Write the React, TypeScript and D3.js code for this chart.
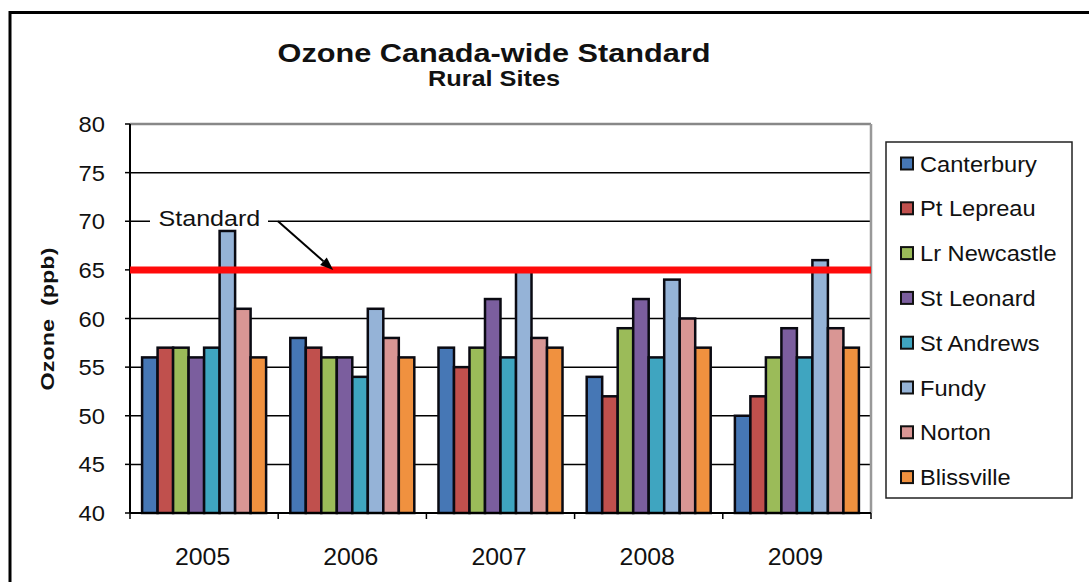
import React from "react";
import * as d3 from "d3";

const years = ["2005", "2006", "2007", "2008", "2009"];
const sites = ["Canterbury", "Pt Lepreau", "Lr Newcastle", "St Leonard", "St Andrews", "Fundy", "Norton", "Blissville"];
const canterbury = [56, 58, 57, 54, 50];
const ptLepreau = [57, 57, 55, 52, 52];
const lrNewcastle = [57, 56, 57, 59, 56];
const stLeonard = [56, 56, 62, 62, 59];
const stAndrews = [57, 54, 56, 56, 56];
const fundy = [69, 61, 65, 64, 66];
const norton = [61, 58, 58, 60, 59];
const blissville = [56, 56, 57, 57, 57];
const seriesValues = [canterbury, ptLepreau, lrNewcastle, stLeonard, stAndrews, fundy, norton, blissville];
const siteColors = ["#4677B5", "#C0504D", "#9BBB59", "#7B5E9E", "#3FA5C0", "#95B3D7", "#D99694", "#F0913F"];
const yTicks = [40, 45, 50, 55, 60, 65, 70, 75, 80];
const standard = 65;
const titleText = "Ozone Canada-wide Standard";
const subtitleText = "Rural Sites";
const yAxisTitle = "Ozone\u00a0\u00a0(ppb)";
const standardLabel = "Standard";

const W = 1089;
const H = 582;
const FONT = "'Liberation Sans', Arial, Helvetica, sans-serif";

function T(props: any) {
  const { x, y, sx = 1, rotate = 0, size, weight = "normal", anchor = "start", children } = props;
  return (
    <text
      transform={`translate(${x},${y}) rotate(${rotate}) scale(${sx},1)`}
      fontSize={size}
      fontWeight={weight}
      textAnchor={anchor}
      fontFamily={FONT}
      fill="#111"
    >
      {children}
    </text>
  );
}

export default function App() {
  const left = 130, right = 871, top = 124, bottom = 513;
  const x0 = d3.scaleBand<string>().domain(years).range([left, right]).paddingInner(0).paddingOuter(0);
  const x1 = d3.scaleBand<string>().domain(sites).range([0, x0.bandwidth()]).paddingInner(0).paddingOuter(0.78);
  const y = d3.scaleLinear().domain([40, 80]).range([bottom, top]);

  const bars: any[] = [];
  years.forEach((yr, i) => {
    sites.forEach((s, j) => {
      const v = seriesValues[j][i];
      bars.push(
        <rect
          key={yr + s}
          x={(x0(yr) as number) + (x1(s) as number)}
          y={y(v)}
          width={x1.bandwidth()}
          height={y(40) - y(v)}
          fill={siteColors[j]}
          stroke="#0a0a12"
          strokeWidth={2.5}
        />
      );
    });
  });

  const bandEdges = years.map((yr) => x0(yr) as number).concat([right]);

  // arrow annotation
  const labelY = y(70);
  const arrowStart: [number, number] = [left + 148, labelY];
  const arrowEnd: [number, number] = [(x0("2006") as number) + 55, y(standard)];
  const ang = Math.atan2(arrowEnd[1] - arrowStart[1], arrowEnd[0] - arrowStart[0]);
  const ah = 13, aw = 5;
  const bx = arrowEnd[0] - ah * Math.cos(ang), by = arrowEnd[1] - ah * Math.sin(ang);
  const head = `M${arrowEnd[0]},${arrowEnd[1]} L${bx + aw * Math.sin(ang)},${by - aw * Math.cos(ang)} L${bx - aw * Math.sin(ang)},${by + aw * Math.cos(ang)} Z`;

  const legendX = 886, legendTop = 142, legendW = 186, legendH = 356;
  const legendStep = 44.8;

  return (
    <svg width={W} height={H} style={{ position: "absolute", left: 0, top: 0, background: "#fff" }}>
      <rect x={0} y={0} width={W} height={H} fill="#fff" />
      {/* outer frame */}
      <rect x={10} y={12.5} width={1200} height={700} fill="none" stroke="#000" strokeWidth={3} />

      {/* titles */}
      <T x={494} y={61.5} size={26} weight="bold" anchor="middle" sx={1.18}>{titleText}</T>
      <T x={494} y={85.5} size={22} weight="bold" anchor="middle" sx={1.15}>{subtitleText}</T>

      {/* gridlines */}
      {yTicks.filter((t) => t > 40 && t < 80).map((t) => (
        <line key={t} x1={left} x2={right} y1={y(t)} y2={y(t)} stroke="#000" strokeWidth={1.5} />
      ))}
      {/* plot border top & right */}
      <line x1={left} x2={right} y1={y(80)} y2={y(80)} stroke="#888" strokeWidth={2.5} />
      <line x1={right} x2={right} y1={y(80)} y2={y(40)} stroke="#999" strokeWidth={2.5} />

      {/* standard label */}
      <rect x={150} y={labelY - 14} width={118} height={26} fill="#fff" />
      <T x={158.5} y={labelY + 5} size={22} sx={1.14}>{standardLabel}</T>

      {/* bars */}
      {bars}

      {/* axes */}
      <line x1={left} x2={left} y1={y(80)} y2={y(40)} stroke="#000" strokeWidth={2} />
      <line x1={left} x2={right} y1={y(40)} y2={y(40)} stroke="#000" strokeWidth={2} />
      {yTicks.map((t) => (
        <line key={"yt" + t} x1={left - 5} x2={left} y1={y(t)} y2={y(t)} stroke="#000" strokeWidth={1.5} />
      ))}
      {bandEdges.map((e, i) => (
        <line key={"xt" + i} x1={e} x2={e} y1={y(40)} y2={y(40) + 6} stroke="#000" strokeWidth={1.5} />
      ))}

      {/* standard line */}
      <line x1={left} x2={right} y1={y(standard)} y2={y(standard)} stroke="#ff0a0a" strokeWidth={7} />

      {/* arrow */}
      <line x1={arrowStart[0]} y1={arrowStart[1]} x2={bx} y2={by} stroke="#000" strokeWidth={2} />
      <path d={head} fill="#000" />

      {/* y tick labels */}
      {yTicks.map((t) => (
        <T key={"yl" + t} x={105} y={y(t) + 8} size={22} anchor="end" sx={1.08}>{String(t)}</T>
      ))}
      {/* x tick labels */}
      {years.map((yr) => (
        <T key={"xl" + yr} x={(x0(yr) as number) + x0.bandwidth() / 2 - 1.5} y={565} size={23} anchor="middle" sx={1.08}>{yr}</T>
      ))}
      {/* y axis title */}
      <T x={54} y={319} size={18} weight="bold" anchor="middle" rotate={-90} sx={1.3}>{yAxisTitle}</T>

      {/* legend */}
      <rect x={legendX} y={legendTop} width={legendW} height={legendH} fill="#fff" stroke="#222" strokeWidth={1.5} />
      {sites.map((s, j) => {
        const cy = 163.5 + j * legendStep;
        return (
          <g key={"lg" + s}>
            <rect x={901} y={cy - 6} width={12} height={12} fill={siteColors[j]} stroke="#111" strokeWidth={2} />
            <T x={920} y={cy + 8} size={22} sx={1.075}>{s}</T>
          </g>
        );
      })}
    </svg>
  );
}
